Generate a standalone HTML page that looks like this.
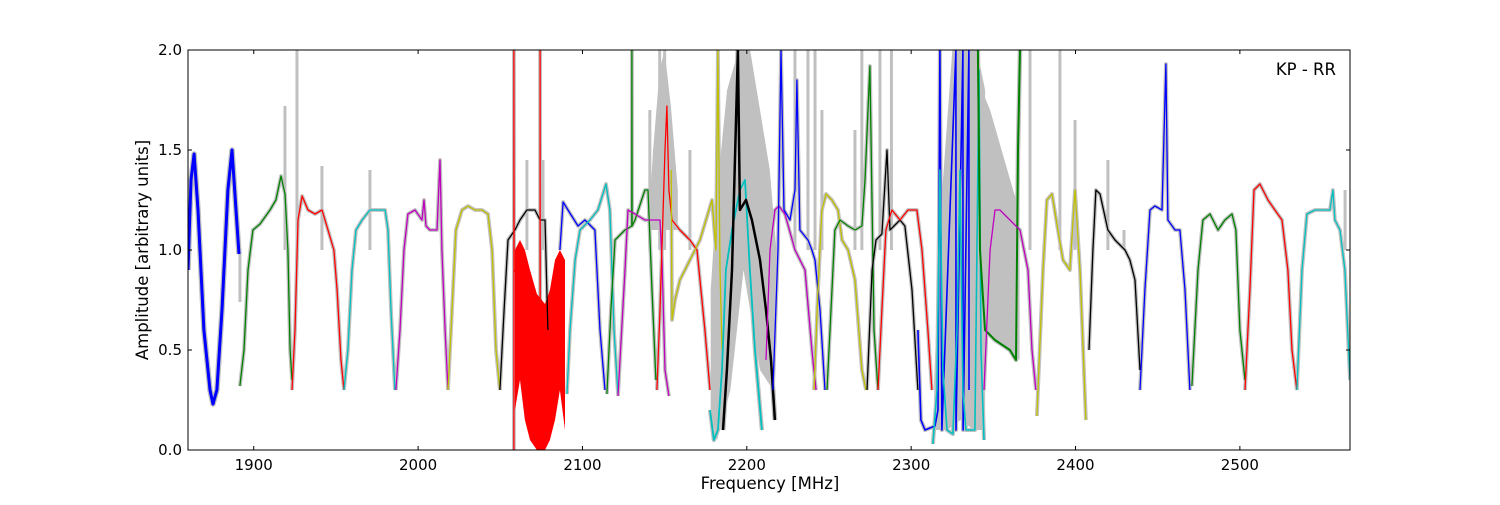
<!DOCTYPE html>
<html><head><meta charset="utf-8"><style>
html,body{margin:0;padding:0;background:#fff;}
svg text{font-family:"DejaVu Sans","Liberation Sans",sans-serif;font-size:15px;fill:#000;}
svg text.big{font-size:16.5px;}
</style></head><body>
<svg id="chart" width="1500" height="500" viewBox="0 0 1500 500" xmlns="http://www.w3.org/2000/svg">
<g id="gray"></g>
<g id="series"></g>
<g id="axes"></g>
</svg>
<script>
const xTicks=[1900,2000,2100,2200,2300,2400,2500];
const yTicks=[0.0,0.5,1.0,1.5,2.0];
const yTickLabels=["0.0","0.5","1.0","1.5","2.0"];
const bandColors=["#0000ff","#008000","#ff0000","#00bfbf","#bf00bf","#bfbf00","#000000","#ff0000","#0000ff","#00bfbf","#008000","#bf00bf","#ff0000","#bfbf00","#00bfbf","#000000","#bf00bf","#0000ff","#bfbf00","#008000","#000000","#ff0000","#0000ff","#00bfbf","#008000","#bf00bf","#bfbf00","#000000","#0000ff","#008000","#ff0000","#00bfbf"];
const bandWidths=[3,1.3,1.3,1.3,1.3,1.3,1.3,1.3,1.3,1.3,1.3,1.3,1.3,1.3,1.8,2.5,1.3,1.3,1.3,1.3,1.3,1.3,1.6,1.6,2,1.3,1.3,1.3,1.3,1.3,1.3,1.3];
const bandFreqs=[
[1860,1861.8,1863.7,1866.1,1869.7,1873.4,1875.2,1877.6,1880.7,1884.3,1886.8,1889.2,1891],
[1891.6,1894.1,1896.5,1899.5,1903.8,1909.9,1913.5,1916.6,1919,1920.8,1922.1,1923.3],
[1923.3,1925.1,1926.9,1929.4,1933,1937.3,1941.5,1945.2,1948.8,1950.7,1953.1,1954.9],
[1954.9,1957.3,1959.8,1962.2,1965.9,1970.7,1975.6,1979.9,1981.7,1983.5,1985.9],
[1986.5,1989,1991.4,1993.8,1998.1,2002.4,2003.6,2004.8,2007.2,2011.5,2013.3,2014.5,2016.4,2018.2],
[2018.2,2020.6,2023,2026.7,2030.4,2034.6,2038.9,2042.5,2045,2047.4,2049.8],
[2049.8,2052.3,2054.7,2058.9,2062,2066.2,2071.1,2074.2,2077.2,2079],
[2058.3,2058.3,2058.4,2074.2,2074.2,2074.3],
[2086.3,2088.2,2091.2,2097.3,2101.5,2107.6,2110.7,2113.7],
[2090.6,2092.4,2095.5,2098.5,2104.6,2109.4,2114.3,2116.7,2119.2,2121.6],
[2114.9,2117.3,2119.8,2125.9,2130,2130.1,2130.2,2132,2138,2139.9,2142.3,2144.7],
[2121.6,2125.9,2127.7,2132,2138,2147.2,2148.4,2150.2,2152.6],
[2145.3,2147.2,2150.2,2151.4,2152.6,2154.5,2159.3,2165.4,2169.7,2174.5,2177.6],
[2154,2154.5,2156.3,2159.3,2165.4,2171.5,2178.8,2181.2,2182.4,2183.7,2184.9],
[2177.6,2180,2182.4,2184.9,2187.3,2191,2195.8,2198.9,2201.9,2205,2209.2],
[2185.5,2187.9,2191,2194.6,2195.8,2199.5,2203.1,2208,2211.7,2214.7,2217.1],
[2211.7,2214.1,2217.1,2219.6,2223.2,2229.3,2235.4,2239.6,2242.1],
[2215.9,2219,2220.8,2222.6,2226.3,2229.3,2230.5,2232.3,2237.2,2239.6,2241.5,2244.5,2247.6],
[2240.9,2243.3,2245.7,2248.2,2251.8,2255.5,2257.9,2261.6,2265.8,2270,2272.5],
[2248.8,2251.2,2253.6,2256.7,2261.6,2265.8,2270,2271.9,2274.9,2277.4,2279.8],
[2273.1,2276.2,2278.6,2282.2,2285.3,2287.1,2293.2,2296.2,2300.5,2304.1],
[2279.8,2282.2,2284.6,2288.3,2293.2,2298,2303.5,2306.6,2310.2,2312.6],
[2304.1,2305.9,2308.4,2314.5,2316.3,2317.5,2318.7,2327.2,2327.3,2331.5,2331.6,2335.1,2335.2],
[2313.2,2315.7,2317.5,2319.3,2321.8,2325.4,2327.9,2329.7,2331.5,2333.3,2338.8,2341.3,2342.5,2344.3],
[2340.6,2341.9,2344.9,2351,2360.1,2363.8,2365,2366.2],
[2344.3,2348,2351,2354,2360.1,2366.2,2371.1,2373.5,2375.9],
[2376.5,2380.2,2382.6,2385.7,2389.3,2392.4,2396.6,2399.7,2402.7,2406.3],
[2408.2,2410.6,2412.4,2414.9,2419.7,2424,2430.1,2433.1,2436.2,2439.2],
[2439.2,2442.2,2445.3,2448.3,2452.6,2455,2456.2,2460.5,2463.5,2466.6,2469.6],
[2470.8,2474.5,2477.5,2481.8,2486.7,2490.9,2495.2,2497.6,2500,2503.1],
[2503.1,2506.1,2508.6,2512.2,2517.1,2521.3,2525.6,2529.2,2531.7,2534.7],
[2534.7,2537.8,2540.8,2545.7,2549.9,2554.8,2556.6,2557.8,2560.9,2563.9,2567]
];
const bandAmps=[
[0.9,1.35,1.48,1.2,0.6,0.3,0.23,0.3,0.7,1.3,1.5,1.2,0.98],
[0.32,0.5,0.9,1.1,1.13,1.2,1.25,1.37,1.28,1.0,0.5,0.35],
[0.3,0.6,1.15,1.27,1.2,1.18,1.2,1.1,1.0,0.8,0.45,0.3],
[0.3,0.5,0.9,1.1,1.15,1.2,1.2,1.2,1.1,0.7,0.3],
[0.3,0.6,1.0,1.18,1.2,1.15,1.25,1.12,1.1,1.1,1.45,1.0,0.6,0.3],
[0.3,0.7,1.1,1.2,1.22,1.2,1.2,1.18,1.0,0.5,0.3],
[0.3,0.7,1.05,1.1,1.15,1.2,1.2,1.15,1.15,0.6],
[0.0,2.0,0.9,0.7,2.0,0.7],
[1.0,1.24,1.2,1.12,1.15,1.1,0.6,0.3],
[0.28,0.6,0.95,1.1,1.15,1.2,1.33,1.2,0.6,0.28],
[0.28,0.7,1.05,1.1,1.12,2.0,1.12,1.15,1.3,1.3,0.8,0.35],
[0.27,0.9,1.2,1.18,1.15,1.15,0.95,0.4,0.27],
[0.3,0.7,1.5,1.72,1.3,1.15,1.1,1.05,1.0,0.6,0.3],
[1.4,0.65,0.75,0.85,0.95,1.05,1.25,1.0,2.0,0.9,0.5],
[0.2,0.05,0.1,0.4,0.9,1.1,1.3,1.35,0.9,0.5,0.1],
[0.1,0.4,0.9,2.0,1.2,1.25,1.15,0.95,0.7,0.45,0.15],
[0.45,1.0,1.2,1.22,1.18,1.0,0.9,0.5,0.3],
[0.3,1.0,2.0,1.2,1.15,1.3,1.85,1.1,1.05,1.0,0.95,0.7,0.3],
[0.3,0.8,1.2,1.28,1.25,1.2,1.05,1.0,0.85,0.4,0.3],
[0.3,0.7,1.1,1.15,1.12,1.1,1.12,1.35,1.92,0.6,0.3],
[0.3,0.9,1.05,1.08,1.5,1.1,1.15,1.12,0.8,0.3],
[0.3,0.7,1.1,1.2,1.15,1.2,1.2,1.0,0.6,0.3],
[0.6,0.15,0.1,0.12,0.2,2.0,0.1,2.0,0.1,2.0,0.1,2.0,0.3],
[0.03,0.3,1.4,0.4,0.1,0.08,0.6,1.4,0.3,0.1,0.1,1.9,0.5,0.05],
[2.0,1.0,0.6,0.55,0.5,0.45,1.5,2.0],
[0.3,1.0,1.2,1.2,1.15,1.1,0.9,0.5,0.3],
[0.17,0.9,1.25,1.28,1.1,0.95,0.9,1.3,0.9,0.15],
[0.5,1.0,1.3,1.28,1.1,1.05,1.0,0.95,0.85,0.4],
[0.3,0.8,1.2,1.22,1.2,1.93,1.15,1.1,1.1,0.8,0.3],
[0.32,0.9,1.15,1.18,1.1,1.15,1.18,1.1,0.6,0.35],
[0.3,0.8,1.3,1.33,1.25,1.2,1.15,0.9,0.5,0.3],
[0.3,0.9,1.18,1.2,1.2,1.2,1.3,1.15,1.1,0.9,0.35]
];
const redFillFreqs=[2058.9,2062,2065,2068.1,2072.3,2077.2,2080.2,2083.3,2086.3,2089.4];
const redFillTop=[1.0,1.05,1.0,0.9,0.78,0.73,0.8,0.95,1.0,0.95];
const redFillBottom=[0.2,0.35,0.15,0.05,0.0,0.0,0.05,0.15,0.3,0.1];
const graySpikeFreqs=[1891.6,1919,1926.3,1941.5,1970.7,2066.2,2076,2141,2147,2150,2165.4,2229.3,2237.2,2241.5,2245.7,2265.8,2270,2281,2288,2372.3,2390.5,2399.7,2419.7,2429.5,2564];
const graySpikeAmps=[0.74,1.72,2.0,1.42,1.4,1.45,1.45,1.7,2.0,2.0,1.5,2.0,2.0,2.0,1.7,1.6,2.0,2.0,2.0,2.0,2.0,1.65,1.45,1.1,1.3];
const grayPolyFreqs=[
[2140,2143,2147,2150,2154,2158,2158,2150,2140],
[2178,2182,2188,2195,2202,2208,2214,2218,2216,2208,2198,2190,2182,2178],
[2314,2318,2325,2332,2340,2345,2345,2338,2330,2322,2314],
[2343,2348,2355,2362,2366,2366,2358,2350,2343]
];
const grayPolyAmps=[
[1.1,1.5,1.9,2.0,1.7,1.3,1.1,1.1,1.1],
[0.8,1.3,1.8,2.0,2.0,1.7,1.4,1.0,0.3,0.4,0.9,0.3,0.05,0.2],
[0.35,1.2,2.0,2.0,2.0,1.8,0.1,0.1,0.15,0.1,0.1],
[1.8,1.7,1.5,1.3,1.2,0.45,0.5,0.55,0.6]
];

const L=188,R=1350,T=50,B=450,X0=1860,X1=2567,Y0=0,Y1=2;
const xs=f=>L+(f-X0)/(X1-X0)*(R-L);
const ys=a=>B-(a-Y0)/(Y1-Y0)*(B-T);
const NS="http://www.w3.org/2000/svg";
function mk(tag,attrs,parent){const e=document.createElementNS(NS,tag);for(const k in attrs)e.setAttribute(k,attrs[k]);parent.appendChild(e);return e;}
const svg=document.getElementById('chart');
const defs=mk('defs',{},svg);
const cp=mk('clipPath',{id:'clip'},defs);
mk('rect',{x:L,y:T,width:R-L,height:B-T},cp);
const gray=document.getElementById('gray'),series=document.getElementById('series'),axes=document.getElementById('axes');
gray.setAttribute('clip-path','url(#clip)');series.setAttribute('clip-path','url(#clip)');

for(let i=0;i<grayPolyFreqs.length;i++){
 const pts=grayPolyFreqs[i].map((f,j)=>xs(f).toFixed(1)+','+ys(grayPolyAmps[i][j]).toFixed(1)).join(' ');
 const e=mk('polygon',{points:pts,fill:'#c0c0c0'},gray);
 
 
}
for(let i=0;i<graySpikeFreqs.length;i++){
 const e=mk('line',{x1:xs(graySpikeFreqs[i]),x2:xs(graySpikeFreqs[i]),y1:ys(1.0),y2:ys(graySpikeAmps[i]),stroke:'#c0c0c0','stroke-width':3},gray);
 
 
}
for(let i=0;i<bandFreqs.length;i++){
 const d=bandFreqs[i].map((f,j)=>(j?'L':'M')+xs(f).toFixed(1)+','+ys(bandAmps[i][j]).toFixed(1)).join('');
 const g=mk('path',{d:d,fill:'none',stroke:'#c0c0c0','stroke-width':bandWidths[i]+2.5,'stroke-linejoin':'round'},gray);
 
 
}
{
 let d='M'+redFillFreqs.map((f,j)=>xs(f).toFixed(1)+','+ys(redFillTop[j]).toFixed(1)).join('L');
 for(let j=redFillFreqs.length-1;j>=0;j--)d+='L'+xs(redFillFreqs[j]).toFixed(1)+','+ys(redFillBottom[j]).toFixed(1);
 const e=mk('path',{d:d+'Z',fill:'#ff0000'},series);
 
 
}
for(let i=0;i<bandFreqs.length;i++){
 const d=bandFreqs[i].map((f,j)=>(j?'L':'M')+xs(f).toFixed(1)+','+ys(bandAmps[i][j]).toFixed(1)).join('');
 const e=mk('path',{d:d,fill:'none',stroke:bandColors[i],'stroke-width':bandWidths[i],'stroke-linejoin':'round'},series);
 
 
}
const fr=mk('rect',{x:L,y:T,width:R-L,height:B-T,fill:'none',stroke:'#000','stroke-width':1},axes);


xTicks.forEach(t=>{
 const x=xs(t);
 mk('line',{x1:x,x2:x,y1:B,y2:B-4,stroke:'#000'},axes);
 mk('line',{x1:x,x2:x,y1:T,y2:T+4,stroke:'#000'},axes);
 const e=mk('text',{x:x,y:B+20,'text-anchor':'middle'},axes);e.textContent=t;
 
 
});
yTicks.forEach((t,i)=>{
 const y=ys(t);
 mk('line',{x1:L,x2:L+4,y1:y,y2:y,stroke:'#000'},axes);
 mk('line',{x1:R,x2:R-4,y1:y,y2:y,stroke:'#000'},axes);
 const e=mk('text',{x:L-6,y:y+5,'text-anchor':'end'},axes);e.textContent=yTickLabels[i];
 
 
});
const xt=mk('text',{x:770,y:489,'text-anchor':'middle','class':'big'},axes);xt.textContent='Frequency [MHz]';


const yt=mk('text',{x:0,y:0,'text-anchor':'middle','class':'big',transform:'translate(148,250) rotate(-90)'},axes);yt.textContent='Amplitude [arbitrary units]';


const lb=mk('text',{x:1336,y:75,'text-anchor':'end','class':'big'},axes);lb.textContent='KP - RR';


</script>
</body></html>
